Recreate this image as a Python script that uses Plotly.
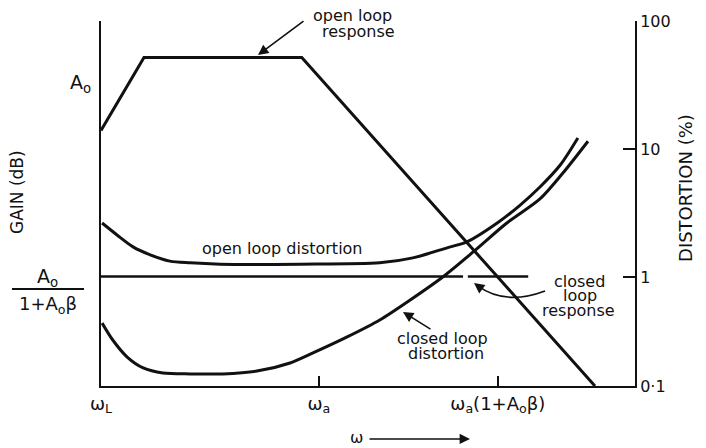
import plotly.graph_objects as go

# Frequency axis is schematic (log-omega in arbitrary units, 0 = omega_L)
freq_ticks = [0.0, 4.08, 7.43]
freq_labels = ["ω<sub>L</sub>", "ω<sub>a</sub>", "ω<sub>a</sub>(1+A<sub>o</sub>β)"]

# Gain (dB, arbitrary) of the open loop response: rise, plateau at A_o, roll-off
ol_resp_x = [0.0, 0.805, 3.76, 9.25]
ol_resp_gain = [70, 90, 90, 0]

# Closed loop response (flat at A_o/(1+A_o*beta)), small break where the label points
cl_resp_x = [0.0, 6.78, None, 6.87, 8.0]
cl_resp_gain = [30, 30, None, 30, 30]

# Distortion (%) curves
ol_dist_x = [0.02, 0.30, 0.60, 0.92, 1.29, 1.67, 2.23, 3.73, 5.22, 5.84, 6.48,
             6.85, 7.42, 7.85, 8.22, 8.60, 8.93]
ol_dist = [2.64, 2.13, 1.72, 1.49, 1.33, 1.29, 1.26, 1.26, 1.29, 1.41, 1.69,
           1.88, 2.64, 3.65, 5.05, 7.50, 12.2]

cl_dist_x = [0.02, 0.22, 0.49, 0.79, 1.16, 1.67, 2.28, 2.92, 3.54, 3.97, 4.61,
             5.22, 5.79, 6.40, 6.97, 7.60, 8.22, 8.65, 9.12]
cl_dist = [0.437, 0.322, 0.237, 0.195, 0.178, 0.175, 0.175, 0.184, 0.213, 0.255,
           0.340, 0.461, 0.661, 1.00, 1.57, 2.64, 4.07, 6.49, 11.5]

# Distortion axis (log): lower end of the drawn scale and its tick labels
dist_low_log = -0.8516
dist_tickvals = [10 ** dist_low_log, 1, 10, 100]
dist_ticktext = ["0·1", "1", "10", "100"]

FONT = "DejaVu Sans"
INK = "#111111"

fig = go.Figure()
fig.add_trace(go.Scatter(x=ol_resp_x, y=ol_resp_gain, mode="lines",
                         line=dict(color=INK, width=3), yaxis="y"))
fig.add_trace(go.Scatter(x=cl_resp_x, y=cl_resp_gain, mode="lines",
                         line=dict(color=INK, width=2.6), yaxis="y",
                         connectgaps=False))
fig.add_trace(go.Scatter(x=ol_dist_x, y=ol_dist, mode="lines",
                         line=dict(color=INK, width=3, shape="spline", smoothing=0.8),
                         yaxis="y2"))
fig.add_trace(go.Scatter(x=cl_dist_x, y=cl_dist, mode="lines",
                         line=dict(color=INK, width=3, shape="spline", smoothing=0.8),
                         yaxis="y2"))

txt = dict(family=FONT, size=16, color=INK)


def label(text, xp, yp, **kw):
    fig.add_annotation(text=text, x=xp, y=yp, xref="paper", yref="paper",
                       xanchor="center", yanchor="middle",
                       showarrow=False, font=kw.pop("font", txt), **kw)


def arrow(xp, yp, ax, ay):
    fig.add_annotation(text="", x=xp, y=yp, xref="paper", yref="paper",
                       ax=ax, ay=ay, showarrow=True, arrowhead=2, arrowsize=1.3,
                       arrowwidth=1.6, arrowcolor=INK)


# Left side gain labels
label("A<sub>o</sub>", -0.0393, 0.830, font=dict(family=FONT, size=19, color=INK))
label("A<sub>o</sub>", -0.1011, 0.2959, font=dict(family=FONT, size=19, color=INK))
label("1+A<sub>o</sub>β", -0.0993, 0.2219, font=dict(family=FONT, size=18, color=INK))
fig.add_shape(type="line", xref="paper", yref="paper", x0=-0.1667, x1=-0.0318,
              y0=0.2658, y1=0.2658, line=dict(color=INK, width=1.8))

# Axis titles
label("GAIN (dB)", -0.1573, 0.5315, textangle=-90,
      font=dict(family=FONT, size=17, color=INK))
label("DISTORTION (%)", 1.0955, 0.5425, textangle=-90,
      font=dict(family=FONT, size=18, color=INK))

# Curve labels
label("open loop", 0.4719, 1.016)
label("response", 0.4813, 0.970)
arrow(0.294, 0.9068, 47, -35)

label("open loop distortion", 0.339, 0.378)

label("closed", 0.897, 0.285)
label("loop", 0.897, 0.247)
label("response", 0.895, 0.206)
fig.add_shape(type="path", xref="x", yref="y",
              path="M 8.315,26.03 Q 7.566,21.92 7.05,27.5",
              line=dict(color=INK, width=1.6))
arrow(0.6985, 0.2822, 8, 6)

label("closed loop", 0.6404, 0.1315)
label("distortion", 0.6461, 0.0877)
arrow(0.5655, 0.2027, 29, 18)

# Frequency direction marker
label("ω", 0.4794, -0.140, font=dict(family=FONT, size=16, color=INK))
arrow(0.691, -0.145, -102, 0)

fig.update_layout(
    width=706, height=448,
    margin=dict(l=101, r=71, t=21, b=62),
    paper_bgcolor="white", plot_bgcolor="white",
    showlegend=False,
    font=dict(family=FONT, color=INK),
    xaxis=dict(range=[0, 10], showgrid=False, zeroline=False,
               showline=True, linecolor=INK, linewidth=2,
               tickmode="array", tickvals=freq_ticks, ticktext=freq_labels,
               ticks="inside", ticklen=10, tickwidth=1.6, tickcolor=INK,
               tickfont=dict(family=FONT, size=18, color=INK)),
    yaxis=dict(range=[0, 100], showgrid=False, zeroline=False,
               showline=True, linecolor=INK, linewidth=2,
               showticklabels=False, ticks=""),
    yaxis2=dict(type="log", range=[dist_low_log, 2.0], overlaying="y", side="right",
                anchor="x", showgrid=False, zeroline=False,
                showline=True, linecolor=INK, linewidth=2,
                tickmode="array", tickvals=dist_tickvals, ticktext=dist_ticktext,
                ticks="inside", ticklen=12, tickwidth=1.6, tickcolor=INK,
                tickfont=dict(family=FONT, size=16, color=INK)),
)

fig.write_html("out.html")
